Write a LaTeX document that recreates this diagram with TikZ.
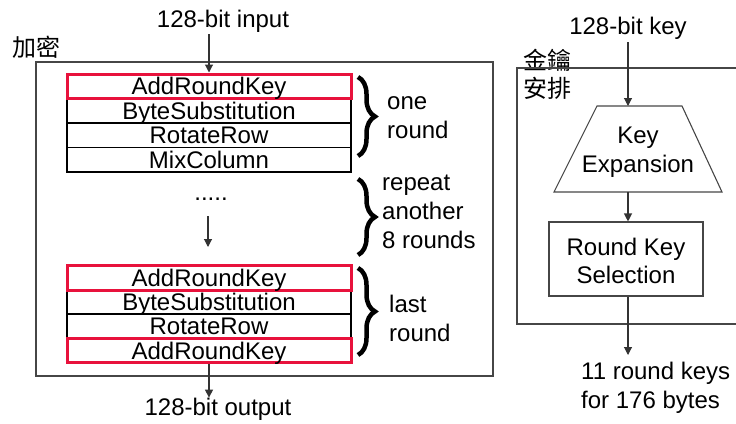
\documentclass[tikz,border=0pt]{standalone}
\usepackage{fontspec}
\setmainfont{Liberation Sans}
\newfontfamily\cjk{Noto Sans CJK TC}
\usetikzlibrary{arrows.meta,decorations.pathreplacing}
\definecolor{keyred}{RGB}{232,18,60}
\definecolor{frame}{RGB}{70,70,70}
\tikzset{
  txt/.style={font=\fontsize{24}{29}\selectfont, inner sep=0pt},
  row/.style={draw=black, line width=1.1pt, minimum width=284pt, minimum height=24.5pt,
              inner sep=0pt, text height=17pt, text depth=0pt, font=\fontsize{24}{24}\selectfont},
  keyrow/.style={row, draw=keyred, line width=3pt},
  arr/.style={draw=black!80, line width=1.1pt, -{Triangle[width=8pt,length=8pt]}},
  bigbrace/.style={decorate, decoration={brace, amplitude=17pt}, line width=4.5pt},
  box/.style={draw=frame, line width=1.1pt},
}
\begin{document}
\begin{tikzpicture}[x=1pt,y=-1pt]
\useasboundingbox (0,0) rectangle (736,423);

% ---------- encryption block ----------
\node[txt] (encl) at (36.5,47) {\cjk 加密};
\draw[box] (36,62) rectangle (493,376);

\node[txt] (in) at (223,21) {128-bit input};

% first round
\node[row] (r2) at (209,110.75) {ByteSubstitution};
\node[row] (r3) at (209,135.25) {RotateRow};
\node[row] (r4) at (209,159.75) {MixColumn};
\node[keyrow] (r1) at (209,86.25) {AddRoundKey};

% repeated rounds
\node[txt] (dots) at (211,199) {.....};
\coordinate (dtop) at (208,216);
\coordinate (dbot) at (208,247);
\draw[arr] (dtop) -- (dbot);

% last round
\node[row] (l2) at (209,302) {ByteSubstitution};
\node[row] (l3) at (209,326.25) {RotateRow};
\node[keyrow] (l1) at (209,278) {AddRoundKey};
\node[keyrow] (l4) at (209,350.5) {AddRoundKey};

\node[txt] (out) at (218,409) {128-bit output};

\draw[arr] (in.south -| r1.north) ++(0,2) coordinate (ina) -- (ina |- r1.north);
\coordinate (outa) at (l4.south);
\draw[arr] (outa) -- (outa |- out.north);

% braces and their labels
\draw[bigbrace] (358,77) -- (358,156);
\draw[bigbrace] (358,179) -- (358,255);
\draw[bigbrace] (358,268) -- (358,355);
\node[txt, anchor=west, align=left] (lab1) at (387,118) {one\\round};
\node[txt, anchor=west, align=left] (lab2) at (382,212) {repeat\\another\\8 rounds};
\node[txt, anchor=west, align=left] (lab3) at (389,318) {last\\round};

% ---------- key schedule block ----------
\node[txt] (ksl1) at (547.5,60) {\cjk 金鑰};
\node[txt] (ksl2) at (547.5,88) {\cjk 安排};
\draw[box] (736,68) -- (517,68) -- (517,324) -- (736,324);

\node[txt] (key) at (628,28) {128-bit key};

\draw[draw=frame, line width=1.1pt] (597,106) -- (682,106) -- (722,192) -- (554,192) -- cycle;
\node[txt, align=center] (kexp) at (638,152) {Key\\Expansion};
\coordinate (ktop) at (628,106);
\coordinate (kbot) at (628,192);

\node[draw=frame, line width=1.1pt, minimum width=154pt, minimum height=74pt,
      txt, align=center, font=\fontsize{24}{28}\selectfont] (rks) at (626,259) {};
\node[txt, align=center, font=\fontsize{24}{28}\selectfont] (rkst) at (626,261) {Round Key\\Selection};

\node[txt, anchor=north west, align=left] (rk) at (581,362) {11 round keys\\for 176 bytes};

\draw[arr] (key.south -| ktop) ++(0,3) coordinate (keya) -- (ktop);
\draw[arr] (kbot) -- (kbot |- rks.north);
\draw[arr] (rks.south -| kbot) -- (628,355) coordinate (rkarr);
\end{tikzpicture}
\end{document}
